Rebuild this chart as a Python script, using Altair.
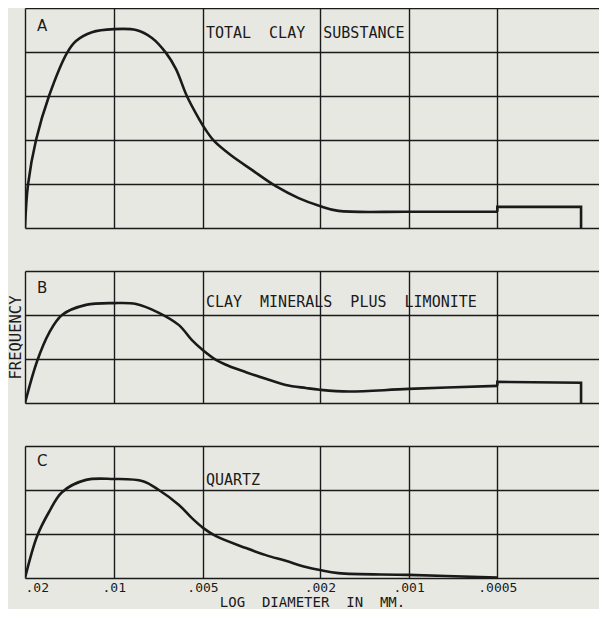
import altair as alt
import pandas as pd

NB = "\u00a0"

# x axis ticks (diameter in mm, log scale, decreasing to the right)
tick_values = [0.02, 0.01, 0.005, 0.002, 0.001, 0.0005]
tick_labels = [".02", ".01", ".005", ".002", ".001", ".0005"]

# Panel A: total clay substance
a_d = [0.02, 0.01954, 0.01835, 0.01658, 0.0144, 0.01343, 0.01186, 0.01, 0.0084,
       0.00742, 0.00665, 0.00615, 0.00565, 0.00514, 0.0049, 0.00457, 0.00398,
       0.0034, 0.00282, 0.00236, 0.002, 0.00173, 0.001, 0.0005]
a_y = [0, 0.98, 2.0, 3.0, 3.98, 4.25, 4.45, 4.52, 4.5, 4.32, 3.98, 3.61, 3.0, 2.48,
       2.25, 1.98, 1.64, 1.32, 0.95, 0.68, 0.5, 0.39, 0.37, 0.37]
a_step_d = [0.0005, 0.0005, 0.00026, 0.00026]
a_step_y = [0.37, 0.48, 0.48, 0]

# Panel B: clay minerals plus limonite
b_d = [0.02, 0.0182, 0.01658, 0.01498, 0.01242, 0.01, 0.0084, 0.00703, 0.00601,
       0.00543, 0.00498, 0.0045, 0.00407, 0.00356, 0.00305, 0.00261, 0.00223, 0.002,
       0.0016, 0.001, 0.0005]
b_y = [0, 0.95, 1.59, 2.0, 2.23, 2.27, 2.25, 2.05, 1.77, 1.43, 1.2, 0.98, 0.84, 0.7,
       0.55, 0.41, 0.34, 0.3, 0.26, 0.32, 0.39]
b_step_d = [0.0005, 0.0005, 0.00026, 0.00026]
b_step_y = [0.39, 0.48, 0.46, 0]

# Panel C: quartz
c_d = [0.02, 0.0182, 0.01658, 0.01498, 0.01242, 0.01, 0.00796, 0.00703, 0.00601,
       0.00543, 0.00498, 0.0045, 0.00356, 0.00305, 0.00261, 0.00223, 0.002, 0.00173,
       0.001, 0.0005]
c_y = [0, 0.95, 1.5, 1.95, 2.23, 2.25, 2.2, 2.0, 1.66, 1.36, 1.14, 0.95, 0.68, 0.52,
       0.39, 0.25, 0.18, 0.11, 0.07, 0.01]

letters = ["A", "B", "C"]
letter_d = 0.0182
letter_y = [4.6, 2.62, 2.66]
titles = ["TOTAL" + NB * 2 + "CLAY" + NB * 2 + "SUBSTANCE",
          "CLAY" + NB * 2 + "MINERALS" + NB * 2 + "PLUS" + NB * 2 + "LIMONITE",
          "QUARTZ"]
title_d = 0.00487
title_y = [4.43, 2.3, 2.23]

INK = "#1a1a1a"
BG = "#e8e8e2"
FONT = "DejaVu Sans"
MONO = "DejaVu Sans Mono"
WIDTH = 574
UNIT = 44

label_expr = " : ".join(
    f"datum.value == {v} ? '{l}'" for v, l in zip(tick_values, tick_labels)
) + " : ''"

xscale = alt.Scale(type="log", domain=[0.000226, 0.02], reverse=True, nice=False)


def panel(d, y, sd, sy, ymax, letter, ly, title, ty, show_x, ytitle):
    curve_df = pd.DataFrame({"d": d, "f": y, "i": list(range(len(d)))})
    step_df = pd.DataFrame({"d": sd, "f": sy, "i": list(range(len(sd)))})
    yscale = alt.Scale(domain=[0, ymax], nice=False, zero=True)
    if show_x:
        xaxis = alt.Axis(values=tick_values, labelExpr=label_expr, grid=True,
                         gridColor=INK, gridWidth=1.4, gridOpacity=1,
                         ticks=False, domain=False, labelFont=MONO,
                         labelFontSize=13, labelColor=INK, labelPadding=3,
                         title="LOG" + NB * 2 + "DIAMETER" + NB * 2 + "IN" + NB * 2 + "MM.",
                         titleFont=MONO, titleFontSize=14,
                         titleFontWeight="normal", titleColor=INK, titlePadding=1)
    else:
        xaxis = alt.Axis(values=tick_values, grid=True, gridColor=INK,
                         gridWidth=1.4, gridOpacity=1, ticks=False, domain=False,
                         labels=False, title=None)
    yaxis_kw = dict(values=list(range(ymax + 1)), grid=True, gridColor=INK,
                    gridWidth=1.4, gridOpacity=1, ticks=False, domain=False,
                    labels=False)
    if ytitle:
        yaxis = alt.Axis(title=ytitle, titleFont=MONO, titleFontSize=15.5,
                         titleFontWeight="normal", titleColor=INK,
                         titlePadding=2, **yaxis_kw)
    else:
        yaxis = alt.Axis(title=None, **yaxis_kw)

    base_x = alt.X("d:Q", scale=xscale, axis=xaxis)
    base_y = alt.Y("f:Q", scale=yscale, axis=yaxis)

    curve = alt.Chart(curve_df).mark_line(
        interpolate="catmull-rom", color=INK, strokeWidth=2.6, clip=True
    ).encode(x=base_x, y=base_y, order="i:Q")
    step = alt.Chart(step_df).mark_line(
        color=INK, strokeWidth=2.6, strokeJoin="miter"
    ).encode(x=alt.X("d:Q", scale=xscale), y=alt.Y("f:Q", scale=yscale),
             order="i:Q")
    lab_df = pd.DataFrame({"d": [letter_d], "f": [ly], "t": [letter]})
    lab = alt.Chart(lab_df).mark_text(
        align="left", baseline="middle", font=FONT, fontSize=15, color=INK
    ).encode(x=alt.X("d:Q", scale=xscale), y=alt.Y("f:Q", scale=yscale), text="t:N")
    tit_df = pd.DataFrame({"d": [title_d], "f": [ty], "t": [title]})
    tit = alt.Chart(tit_df).mark_text(
        align="left", baseline="middle", font=MONO, fontSize=15, color=INK
    ).encode(x=alt.X("d:Q", scale=xscale), y=alt.Y("f:Q", scale=yscale), text="t:N")
    layers = [curve, lab, tit]
    if sd:
        layers.insert(1, step)
    return alt.layer(*layers).properties(width=WIDTH, height=ymax * UNIT)


pa = panel(a_d, a_y, a_step_d, a_step_y, 5, letters[0], letter_y[0], titles[0],
           title_y[0], False, None)
pb = panel(b_d, b_y, b_step_d, b_step_y, 3, letters[1], letter_y[1], titles[1],
           title_y[1], False, "FREQUENCY")
pc = panel(c_d, c_y, [], [], 3, letters[2], letter_y[2], titles[2],
           title_y[2], True, None)

chart = alt.vconcat(pa, pb, pc, spacing=37).properties(
    padding=0, background=BG
).configure_view(stroke=None)

chart.save("out.html", embed_options={"renderer": "svg", "actions": False})
